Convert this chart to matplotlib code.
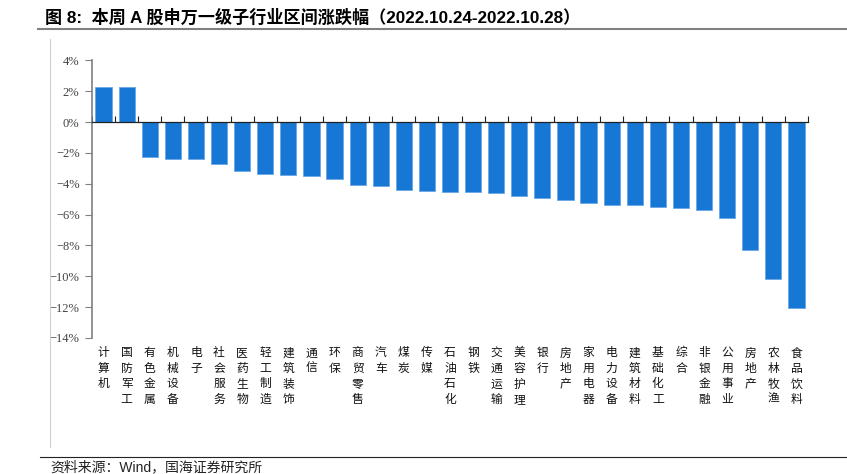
import numpy as np
import matplotlib
matplotlib.use("Agg")
from matplotlib import pyplot as plt
from matplotlib.lines import Line2D
from matplotlib.ticker import FuncFormatter

plt.rcParams['font.family'] = ['Noto Sans CJK SC', 'DejaVu Sans']

industries = ['计算机', '国防军工', '有色金属', '机械设备', '电子', '社会服务',
              '医药生物', '轻工制造', '建筑装饰', '通信', '环保', '商贸零售',
              '汽车', '煤炭', '传媒', '石油石化', '钢铁', '交通运输', '美容护理',
              '银行', '房地产', '家用电器', '电力设备', '建筑材料', '基础化工',
              '综合', '非银金融', '公用事业', '房地产', '农林牧渔', '食品饮料']
changes = [2.25, 2.25, -2.29, -2.39, -2.39, -2.70, -3.15, -3.34, -3.41, -3.47,
           -3.71, -4.06, -4.17, -4.40, -4.47, -4.51, -4.51, -4.62, -4.77, -4.92,
           -5.07, -5.22, -5.37, -5.37, -5.52, -5.57, -5.67, -6.24, -8.29, -10.18,
           -12.08]
y_ticks = np.arange(-14, 5, 2)

title = '图 8:  本周 A 股申万一级子行业区间涨跌幅（2022.10.24-2022.10.28）'
source = '资料来源：Wind，国海证券研究所'
latin_first = ['Liberation Sans', 'Noto Sans CJK SC']

W, H = 847, 474
fig = plt.figure(figsize=(W / 100, H / 100), dpi=100)

# axes box in pixel coordinates
left, right, top, bottom = 92, 808, 60.5, 338
ax = fig.add_axes([left / W, 1 - bottom / H, (right - left) / W, (bottom - top) / H])

x = np.arange(len(industries))
ax.bar(x, changes, width=0.7, color='#1777D5', edgecolor='#6aa8e6', linewidth=0.6, zorder=2)

ax.set_xlim(-0.5, len(industries) - 0.5)
ax.set_ylim(-14, 4)
ax.set_yticks(y_ticks)
ax.yaxis.set_major_formatter(FuncFormatter(lambda v, p: f'{v:.0f}%'.replace('-', '\u2212')))
ax.tick_params(axis='y', direction='out', length=5, width=0.8, color='#808080', pad=4,
               labelsize=9, labelcolor='#444444', labelfontfamily='Liberation Serif')

# x axis on the zero line, ticks at category boundaries pointing up
ax.spines['bottom'].set_position(('data', 0))
ax.spines['bottom'].set_color('#222222')
ax.spines['bottom'].set_linewidth(0.9)
ax.spines['left'].set_color('#808080')
ax.spines['left'].set_linewidth(1.2)
ax.spines['top'].set_visible(False)
ax.spines['right'].set_visible(False)
ax.set_xticks(np.arange(len(industries) + 1) - 0.5)
ax.set_xticklabels([])
ax.tick_params(axis='x', direction='in', length=4, width=0.8, color='#222222')

# vertical category labels below the plot
for i, name in enumerate(industries):
    ax.text(i, -14.55, '\n'.join(name), ha='center', va='top', fontsize=8.5,
            linespacing=1.25, color='#111111', clip_on=False)

# title, frame lines and source
fig.text(45 / W, 1 - 17 / H, title, ha='left', va='center', fontsize=12.3,
         fontweight='bold', family=latin_first)
fig.add_artist(Line2D([38 / W, 1], [1 - 29 / H] * 2, color='#808080', lw=1.5))
fig.add_artist(Line2D([50 / W] * 2, [1 - 39 / H, 1 - 447 / H], color='#d0d0d0', lw=0.8))
fig.add_artist(Line2D([40 / W, 1], [1 - 457 / H] * 2, color='#222222', lw=0.8))
fig.text(50 / W, 1 - 467 / H, source, ha='left', va='center', fontsize=10,
         color='#222222', family=latin_first)

fig.savefig('out.png', dpi=100)
